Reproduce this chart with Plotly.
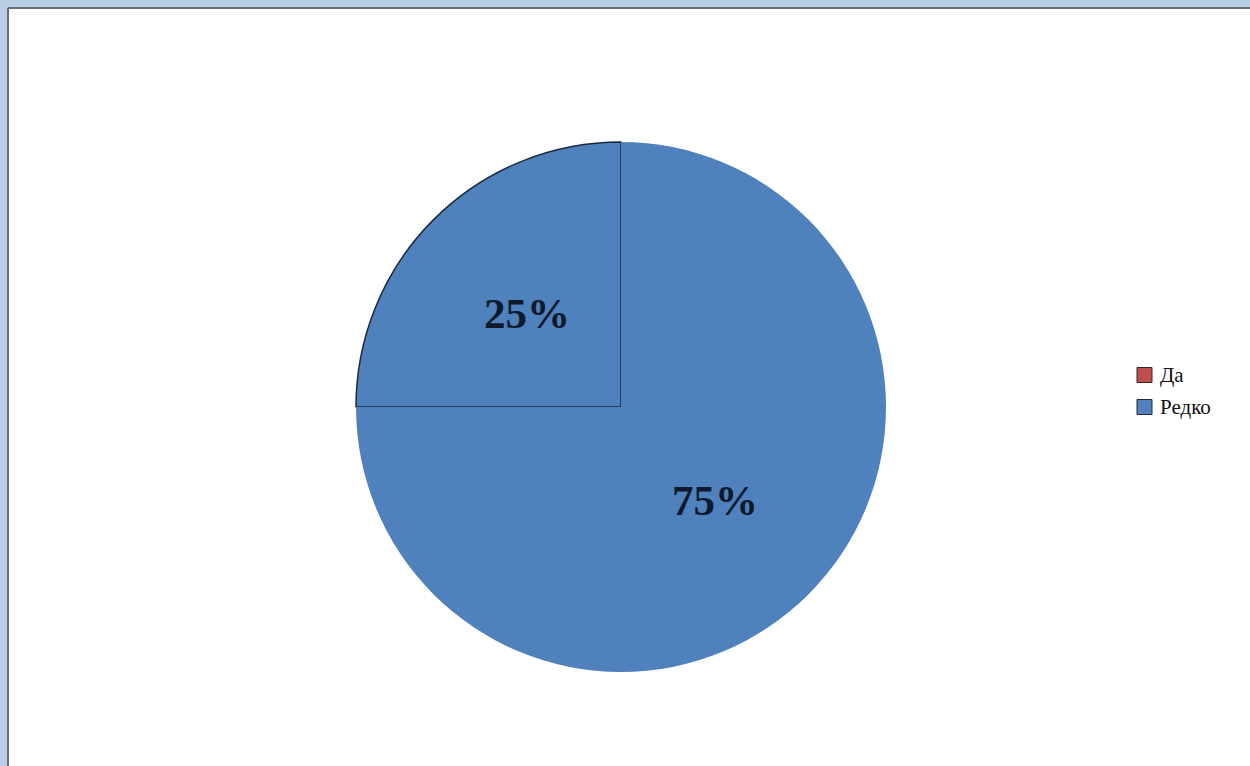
import math
import plotly.graph_objects as go

# Survey answers and their shares (%)
categories = ["Да", "Редко"]
shares = [25, 75]
legend_colors = ["#c0504d", "#4f81bd"]
slice_colors = ["#4f81bd", "#4f81bd"]

W, H = 1250, 766
cx, cy, r = 621, 407, 265
start_deg = -90  # first slice ends at 9 o'clock

fig = go.Figure()

fig.add_trace(go.Pie(
    labels=categories,
    values=shares,
    sort=False,
    direction="counterclockwise",
    rotation=start_deg,
    marker=dict(colors=slice_colors,
                line=dict(color=["#1a2a40", "rgba(0,0,0,0)"], width=[1.5, 0])),
    textinfo="none",
    showlegend=False,
    hoverinfo="label+percent",
    domain=dict(x=[(cx - r) / W, (cx + r) / W],
                y=[(H - cy - r) / H, (H - cy + r) / H]),
))

# Percentage labels placed halfway out along each slice's bisector
# (same angle convention as plotly: clockwise from 12 o'clock)
annotations = []
total = sum(shares)
acc = 0.0
for v in shares:
    mid = start_deg + 360.0 * (shares[0] - acc - v / 2) / total
    acc += v
    a = math.radians(mid)
    px = cx + 0.5 * r * math.sin(a)
    py = cy - 0.5 * r * math.cos(a)
    annotations.append(dict(
        xref="paper", yref="paper", x=px / W, y=1 - py / H,
        xanchor="center", yanchor="middle", showarrow=False,
        text=f"<b>{round(100 * v / total)}%</b>",
        font=dict(family="Liberation Serif", size=43, color="#0d1a2b"),
    ))

# Window frame
shapes = [
    dict(type="rect", xref="paper", yref="paper", layer="below",
         x0=8 / W, x1=1, y0=0, y1=1 - 8 / H,
         fillcolor="white", line=dict(width=0)),
    dict(type="line", xref="paper", yref="paper", layer="below",
         x0=8 / W, x1=1, y0=1 - 8 / H, y1=1 - 8 / H,
         line=dict(color="#6b6f75", width=2)),
    dict(type="line", xref="paper", yref="paper", layer="below",
         x0=8 / W, x1=8 / W, y0=0, y1=1 - 8 / H,
         line=dict(color="#6b6f75", width=2)),
]

# Legend: coloured boxes with category names
leg_x, leg_y0, leg_step, box = 1137, 375, 32, 15
for i, (name, col) in enumerate(zip(categories, legend_colors)):
    yc = leg_y0 + i * leg_step
    shapes.append(dict(
        type="rect", xref="paper", yref="paper",
        x0=leg_x / W, x1=(leg_x + box) / W,
        y0=1 - (yc + box / 2) / H, y1=1 - (yc - box / 2) / H,
        fillcolor=col, line=dict(color="#2b2b2b", width=1),
    ))
    annotations.append(dict(
        xref="paper", yref="paper", x=(leg_x + box + 6) / W, y=1 - yc / H,
        xanchor="left", yanchor="middle", showarrow=False, text=name,
        font=dict(family="Liberation Serif", size=21, color="#111111"),
    ))

fig.update_layout(
    width=W, height=H,
    margin=dict(l=0, r=0, t=0, b=0),
    paper_bgcolor="#b9cde5",
    shapes=shapes,
    annotations=annotations,
)

fig.write_html("out.html")
